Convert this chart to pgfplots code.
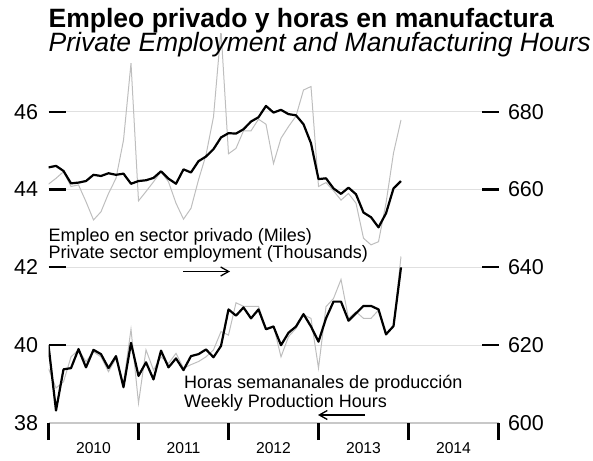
\documentclass[border=0pt]{standalone}
\usepackage{pgfplots}
\pgfplotsset{compat=1.18}
\usepackage{pgfplotstable}
\usepackage{fontspec}
\setmainfont{Liberation Sans}
\usetikzlibrary{arrows.meta}

\definecolor{rawgray}{RGB}{190,190,190}
\definecolor{gridgray}{RGB}{224,224,224}
\definecolor{basegray}{RGB}{200,200,200}

\pgfplotstableread{
i emp empraw
0 665.7 661.4
1 666.1 662.9
2 664.8 664.6
3 661.6 660.8
4 661.8 661.2
5 662.2 656.9
6 663.8 652.2
7 663.5 654.3
8 664.2 659.0
9 663.8 662.9
10 664.1 672.7
11 661.5 692.5
12 662.2 657.1
13 662.4 659.5
14 663.0 662.0
15 664.7 664.6
16 662.8 662.0
17 661.5 656.5
18 665.2 652.4
19 664.4 655.2
20 667.3 662.5
21 668.5 668.9
22 670.4 678.7
23 673.4 701.0
24 674.5 669.2
25 674.4 670.6
26 675.5 675.1
27 677.5 675.1
28 678.6 678.1
29 681.5 676.8
30 679.8 666.7
31 680.5 673.2
32 679.4 676.2
33 679.1 678.9
34 676.8 685.6
35 671.9 686.5
36 662.7 660.8
37 662.9 661.8
38 660.3 659.7
39 658.9 657.3
40 660.5 659.0
41 658.8 656.5
42 654.1 647.5
43 652.9 645.8
44 650.3 646.6
45 653.9 656.5
46 660.3 669.4
47 662.2 677.9
}\emptable

\pgfplotstableread{
i hrs hrsraw
0 40.00 39.40
1 38.32 38.90
2 39.38 39.06
3 39.41 39.70
4 39.90 39.88
5 39.43 39.58
6 39.88 39.83
7 39.77 39.70
8 39.41 39.32
9 39.72 39.66
10 38.92 39.02
11 40.06 40.41
12 39.21 38.51
13 39.56 39.88
14 39.12 39.36
15 39.86 39.70
16 39.43 39.53
17 39.66 39.79
18 39.36 39.41
19 39.72 39.50
20 39.77 39.58
21 39.89 39.70
22 39.69 39.88
23 39.98 40.35
24 40.92 40.26
25 40.76 41.09
26 40.97 41.00
27 40.69 41.00
28 40.92 41.00
29 40.41 40.43
30 40.48 40.50
31 40.00 39.70
32 40.32 40.22
33 40.48 40.43
34 40.80 40.78
35 40.48 40.69
36 40.09 39.41
37 40.69 40.99
38 41.12 41.20
39 41.12 41.69
40 40.63 40.69
41 40.82 40.86
42 41.01 40.69
43 41.01 40.69
44 40.92 40.90
45 40.28 40.26
46 40.49 40.48
47 42.00 42.28
}\hrstable

\pgfplotsset{
  common/.style={
    at={(48.5bp,38bp)}, anchor=south west,
    scale only axis, width=450bp, height=389bp,
    xmin=0, xmax=60,
    axis line style={draw=none},
    /pgf/number format/assume math mode=true,
    ticklabel style={font=\fontsize{21.5bp}{24bp}\selectfont},
  }
}

\begin{document}
\begin{tikzpicture}
\useasboundingbox (0bp,0bp) rectangle (593bp,461bp);

% left axis: weekly production hours (grid first)
\begin{axis}[common,
  ymin=38, ymax=48,
  ytick={40,42,44,46},
  ytick pos=left, xtick=\empty,
  tick align=inside, major tick length=17bp,
  ytick style={black, line width=2.2bp},
  ymajorgrids, grid style={draw=gridgray, line width=1bp},
  yticklabel style={xshift=-7bp},
  extra y ticks={38},
  extra y tick style={grid=major, major tick length=0pt, ytick style={draw=none},
     major grid style={draw=basegray, line width=2.2bp}},
]
\addplot[rawgray, line width=1bp] table[x=i, y=hrsraw] {\hrstable};
\addplot[black, line width=2.2bp, line join=round] table[x=i, y=hrs] {\hrstable};
\end{axis}

% x axis with year ticks and labels
\begin{axis}[common,
  ymin=38, ymax=48,
  ytick=\empty,
  tick align=outside,
  xtick={0,12,24,36,48,60}, xticklabels={},
  xtick pos=bottom,
  major tick length=17bp,
  xtick style={black, line width=2.5bp},
  extra x ticks={6,18,30,42,54},
  extra x tick labels={2010,2011,2012,2013,2014},
  extra x tick style={major tick length=0pt, xtick style={draw=none},
     xticklabel style={font=\fontsize{15.7bp}{18bp}\selectfont, yshift=-16bp}},
]
\end{axis}

% right axis: private employment
\begin{axis}[common,
  ymin=600, ymax=700,
  ytick={620,640,660,680},
  ytick pos=right, xtick=\empty,
  tick align=inside, major tick length=17bp,
  ytick style={black, line width=2.2bp},
  yticklabel style={xshift=6bp},
  extra y ticks={600},
  extra y tick style={major tick length=0pt, ytick style={draw=none}},
]
\addplot[rawgray, line width=1bp] table[x=i, y=empraw] {\emptable};
\addplot[black, line width=2.2bp, line join=round] table[x=i, y=emp] {\emptable};
\end{axis}

% titles
\node[anchor=base west, inner sep=0pt, font=\bfseries\fontsize{26.5bp}{30bp}\selectfont]
  at (48.5bp,433bp) {Empleo privado y horas en manufactura};
\node[anchor=base west, inner sep=0pt, font=\itshape\fontsize{26.5bp}{30bp}\selectfont]
  at (48.5bp,409bp) {Private Employment and Manufacturing Hours};

% annotations
\node[anchor=base west, inner sep=0pt, font=\fontsize{18bp}{20bp}\selectfont]
  at (48.5bp,219bp) {Empleo en sector privado (Miles)};
\node[anchor=base west, inner sep=0pt, font=\fontsize{18bp}{20bp}\selectfont]
  at (48.5bp,202bp) {Private sector employment (Thousands)};
\draw[line width=1.3bp, -{Straight Barb[length=8bp,width=9bp]}] (183bp,189.5bp) -- (230bp,189.5bp);

\node[anchor=base west, inner sep=0pt, font=\fontsize{18bp}{20bp}\selectfont]
  at (184bp,72bp) {Horas semananales de producción};
\node[anchor=base west, inner sep=0pt, font=\fontsize{18bp}{20bp}\selectfont]
  at (184bp,53.5bp) {Weekly Production Hours};
\draw[line width=1.3bp, -{Straight Barb[length=8bp,width=9bp]}] (365bp,46bp) -- (318bp,46bp);
\end{tikzpicture}
\end{document}
